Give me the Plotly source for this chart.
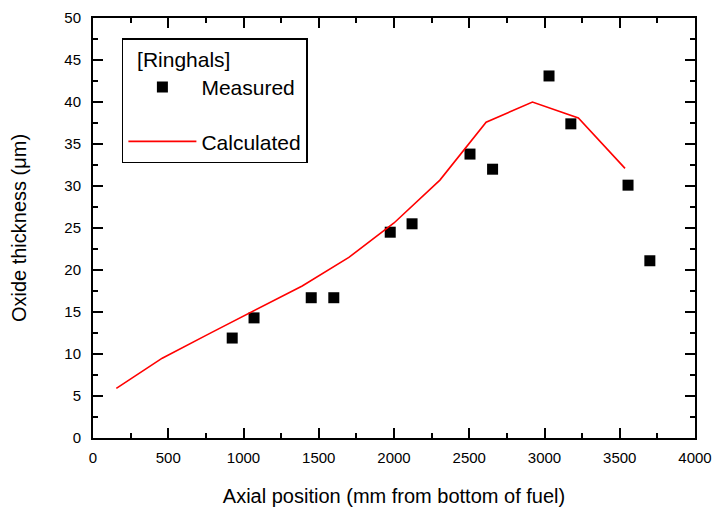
import plotly.graph_objects as go

# Measured oxide thickness (Ringhals)
meas_x = [925, 1070, 1450, 1600, 1975, 2120, 2505, 2655, 3030, 3175, 3555, 3700]
meas_y = [11.9, 14.3, 16.7, 16.7, 24.5, 25.5, 33.8, 32.0, 43.1, 37.4, 30.1, 21.1]

# Calculated curve
calc_x = [155, 460, 770, 1080, 1390, 1700, 2000, 2305, 2612, 2920, 3225, 3535]
calc_y = [5.9, 9.5, 12.4, 15.3, 18.1, 21.5, 25.6, 30.7, 37.6, 40.0, 38.1, 32.1]

x_ticks = [0, 500, 1000, 1500, 2000, 2500, 3000, 3500, 4000]
y_ticks = [0, 5, 10, 15, 20, 25, 30, 35, 40, 45, 50]

FONT = "Liberation Sans, Arial, sans-serif"

fig = go.Figure()
fig.add_trace(go.Scatter(
    x=meas_x, y=meas_y, mode="markers", name="Measured",
    marker=dict(symbol="square", size=11, color="black"),
    legendgroup="a",
))
fig.add_trace(go.Scatter(
    x=calc_x, y=calc_y, mode="lines", name="Calculated",
    line=dict(color="red", width=1.6),
    legendgroup="b",
))

axis_common = dict(
    showline=True, linecolor="black", linewidth=2, mirror="ticks",
    ticks="inside", ticklen=10, tickwidth=2, tickcolor="black",
    showgrid=False, zeroline=False, automargin=False,
    tickfont=dict(family=FONT, size=15, color="black"),
)

fig.update_xaxes(
    range=[0, 4000], tickvals=x_ticks, ticklabelstandoff=5,
    minor=dict(ticks="inside", ticklen=5, tickwidth=2, tickcolor="black", dtick=250, showgrid=False),
    title=dict(text="Axial position (mm from bottom of fuel)", font=dict(family=FONT, size=20, color="black"), standoff=24),
    **axis_common,
)
fig.update_yaxes(
    range=[0, 50], tickvals=y_ticks, ticklabelstandoff=7,
    minor=dict(ticks="inside", ticklen=5, tickwidth=2, tickcolor="black", dtick=2.5, showgrid=False),
    title=dict(text="Oxide thickness (μm)", font=dict(family=FONT, size=20, color="black"), standoff=32),
    **axis_common,
)

fig.update_layout(
    width=713, height=503,
    margin=dict(l=85, r=26, t=10, b=73),
    paper_bgcolor="white", plot_bgcolor="white",
    showlegend=True,
    legend=dict(
        x=0.048, y=0.952, xanchor="left", yanchor="top",
        bgcolor="white", bordercolor="black", borderwidth=1.5,
        font=dict(family=FONT, size=21, color="black"),
        title=dict(text="  [Ringhals]", font=dict(family=FONT, size=21, color="black")),
        tracegroupgap=24, itemwidth=68,
    ),
)

fig.write_html("out.html")
